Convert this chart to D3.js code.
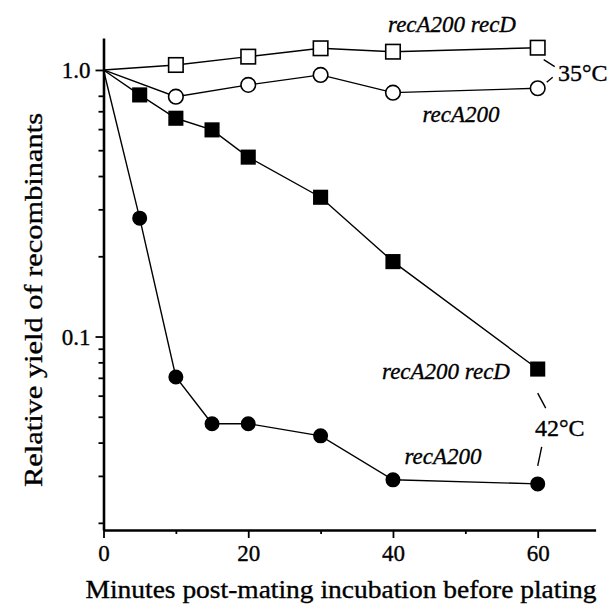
<!DOCTYPE html>
<html><head><meta charset="utf-8">
<script src="https://cdn.jsdelivr.net/npm/d3@7"></script>
<style>html,body{margin:0;padding:0;background:#fff}svg{display:block}
text{font-family:"Liberation Serif","Times New Roman",Tinos,Times,serif !important;stroke:#000;stroke-width:0.35px;}</style>
</head><body>
<svg id="c" width="607" height="605"></svg>
<script>
const openSquareT = [0, 10, 20, 30, 40, 60];
const openSquareV = [1.0, 1.044, 1.122, 1.206, 1.171, 1.212];
const openCircleT = [0, 10, 20, 30, 40, 60];
const openCircleV = [1.0, 0.794, 0.879, 0.958, 0.822, 0.854];
const filledSquareT = [0, 5, 10, 15, 20, 30, 40, 60];
const filledSquareV = [1.0, 0.806, 0.659, 0.596, 0.471, 0.333, 0.191, 0.0755];
const filledCircleT = [0, 5, 10, 15, 20, 30, 40, 60];
const filledCircleV = [1.0, 0.278, 0.0705, 0.0471, 0.0471, 0.0424, 0.0290, 0.0280];
const xMajor = [0, 20, 40, 60];
const xMinor = [10, 30, 50];
const yMajor = [1.0, 0.1];
const yMajorLabels = ["1.0", "0.1"];
const yMinor = [0.8,0.7,0.6,0.5,0.4,0.3,0.2,0.09,0.08,0.07,0.06,0.05,0.04,0.03,0.02];

const svg = d3.select("#c");
const x = d3.scaleLinear().domain([0, 68]).range([103.5, 595.6]);
const y = d3.scaleLog().domain([0.0188, 1.318]).range([530, 38]);

const gx = svg.append("g").attr("transform", `translate(0,${y.range()[0]})`);
gx.call(d3.axisBottom(x).tickValues(xMajor).tickSize(8).tickSizeOuter(0).tickFormat(d3.format("d")));
const gxm = svg.append("g").attr("transform", `translate(0,${y.range()[0]})`);
gxm.call(d3.axisBottom(x).tickValues(xMinor).tickSize(4).tickSizeOuter(0).tickFormat(""));
gxm.select(".domain").remove();

const gy = svg.append("g").attr("transform", `translate(${x.range()[0]},0)`);
gy.call(d3.axisLeft(y).tickValues(yMajor).tickSize(8).tickSizeOuter(0).tickFormat((d,i)=>yMajorLabels[i]));
const gym = svg.append("g").attr("transform", `translate(${x.range()[0]},0)`);
gym.call(d3.axisLeft(y).tickValues(yMinor).tickSize(5).tickSizeOuter(0).tickFormat(""));
gym.select(".domain").remove();

svg.selectAll(".domain").attr("stroke", "#000").attr("stroke-width", 2.6);
svg.selectAll(".tick line").attr("stroke", "#000").attr("stroke-width", 1.8);
svg.selectAll(".tick text").attr("font-size", 23).attr("fill", "#000");
svg.selectAll("g").attr("font-size", null).attr("font-family", null);
gx.selectAll(".tick text").attr("dy", "0.71em").attr("y", 15);
gy.selectAll(".tick text").attr("x", -13).attr("dy", "0.34em");

const line = d3.line().x(d => x(d[0])).y(d => y(d[1]));
function series(T, V) { return T.map((t, i) => [t, V[i]]); }
const S = {
  osq: series(openSquareT, openSquareV),
  ocir: series(openCircleT, openCircleV),
  fsq: series(filledSquareT, filledSquareV),
  fcir: series(filledCircleT, filledCircleV)
};
Object.values(S).forEach(s => {
  svg.append("path").attr("d", line(s)).attr("fill", "none").attr("stroke", "#000").attr("stroke-width", 1.4);
});

function squares(s, fill, size) {
  svg.append("g").selectAll("rect").data(s.filter(d => d[0] > 0)).join("rect")
    .attr("x", d => x(d[0]) - size/2).attr("y", d => y(d[1]) - size/2)
    .attr("width", size).attr("height", size)
    .attr("fill", fill).attr("stroke", "#000").attr("stroke-width", 1.6);
}
function circles(s, fill, r) {
  svg.append("g").selectAll("circle").data(s.filter(d => d[0] > 0)).join("circle")
    .attr("cx", d => x(d[0])).attr("cy", d => y(d[1])).attr("r", r)
    .attr("fill", fill).attr("stroke", "#000").attr("stroke-width", 1.6);
}
squares(S.osq, "#fff", 14.5);
circles(S.ocir, "#fff", 7.3);
squares(S.fsq, "#000", 13.5);
circles(S.fcir, "#000", 6.7);

function txt(px, py, s, opts = {}) {
  const t = svg.append("text").attr("x", px).attr("y", py).text(s)
    .attr("font-size", opts.size || 22)
    .attr("font-style", opts.italic ? "italic" : "normal")
    .attr("text-anchor", opts.anchor || "start").attr("fill", "#000");
  if (opts.len) t.attr("textLength", opts.len).attr("lengthAdjust", "spacingAndGlyphs");
  return t;
}
function seg(x1, y1, x2, y2) {
  svg.append("line").attr("x1", x1).attr("y1", y1).attr("x2", x2).attr("y2", y2)
    .attr("stroke", "#000").attr("stroke-width", 1.4);
}
const x60 = x(60);
txt(452, 32, "recA200 recD", {italic: true, size: 23, anchor: "middle"});
txt(461, 122, "recA200", {italic: true, size: 23, anchor: "middle"});
txt(558, 81, "35°C", {size: 24});
seg(x60 + 6, y(1.212) + 12, x60 + 17, y(1.212) + 19);
seg(x60 + 9, y(0.854) - 6, x60 + 15, y(0.854) - 11);

txt(446, 379, "recA200 recD", {italic: true, size: 23, anchor: "middle"});
txt(443, 464, "recA200", {italic: true, size: 23, anchor: "middle"});
txt(535, 436, "42°C", {size: 24});
seg(x60, y(0.0755) + 24, x60 + 8, y(0.0755) + 39);
seg(x60, y(0.0280) - 18, x60 + 4, y(0.0280) - 37);

txt(341, 598, "Minutes post-mating incubation before plating", {size: 26, anchor: "middle", len: 511});
svg.append("text").attr("transform", "translate(42,300) rotate(-90)")
  .attr("text-anchor", "middle").attr("font-size", 26)
  .attr("textLength", 374).attr("lengthAdjust", "spacingAndGlyphs")
  .text("Relative yield of recombinants");
</script>
</body></html>
